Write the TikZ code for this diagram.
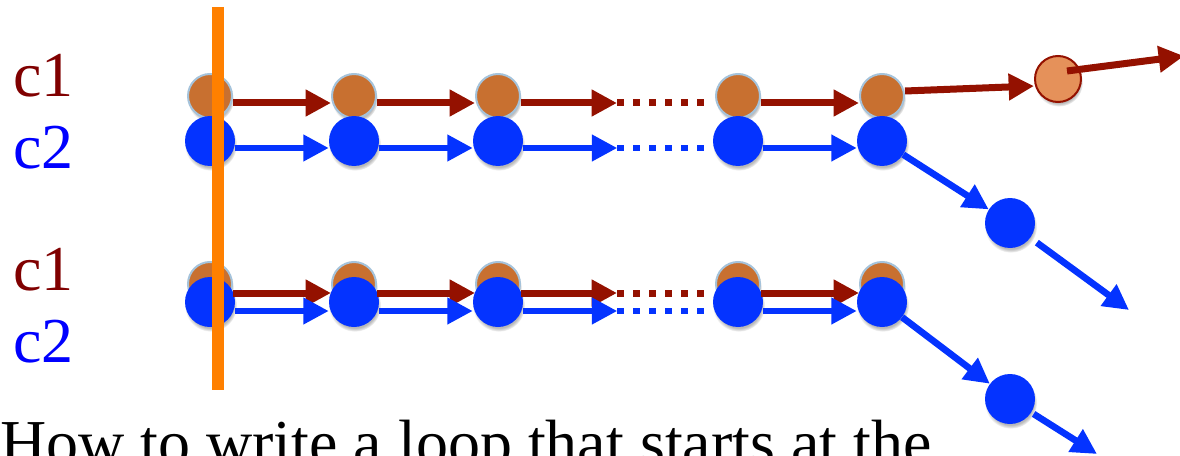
\documentclass[tikz,border=0pt]{standalone}
\usepackage{fontspec}
\setmainfont{Liberation Serif}
\usetikzlibrary{arrows.meta,calc,shadows}

\definecolor{chainred}{RGB}{148,17,0}
\definecolor{chainblue}{RGB}{4,51,255}
\definecolor{nodeorange}{RGB}{200,112,48}
\definecolor{nodeedge}{RGB}{165,195,219}
\definecolor{newfill}{RGB}{229,145,90}
\definecolor{labelred}{RGB}{128,0,0}
\definecolor{labelblue}{RGB}{0,0,255}
\definecolor{cutline}{RGB}{255,128,0}

\tikzset{
  soft shadow/.style={circular drop shadow={shadow xshift=0.6pt, shadow yshift=-2.5pt, shadow scale=1.05, opacity=0.55}},
  onode/.style={circle, inner sep=0pt, minimum size=33pt, fill=nodeorange, draw=nodeedge, line width=1.5pt, soft shadow},
  bnode/.style={circle, inner sep=0pt, minimum size=37.5pt, fill=chainblue, soft shadow},
  newnode/.style={circle, inner sep=0pt, minimum size=34.5pt, fill=newfill, draw=chainred, line width=1.5pt, soft shadow},
  redarrow/.style={draw=chainred, line width=5.25pt, -{Triangle[length=19pt,width=19pt]}},
  bluearrow/.style={draw=chainblue, line width=4.5pt, -{Triangle[length=19pt,width=19pt]}},
  reddots/.style={draw=chainred, line width=5.25pt, dash pattern=on 5.25pt off 6.75pt},
  bluedots/.style={draw=chainblue, line width=4.5pt, dash pattern=on 5.25pt off 6.75pt},
  bigtext/.style={inner sep=0pt, anchor=base west, font=\fontsize{48}{56}\selectfont},
}

\begin{document}
\begin{tikzpicture}[x=0.75pt,y=0.75pt,yscale=-1,xscale=1]
\useasboundingbox (0,0) rectangle (1180,456);
\clip (0,0) rectangle (1180,456);

% two rows of chains: c1 on top, c2 below it
\foreach \r/\ya/\yb/\d in {t/96/141/7,b/284/302/9}{
  \foreach \i/\x in {1/210,2/354,3/498,4/738,5/882}{
    \node[onode] (\r o\i) at (\x,\ya) {};
    \node[bnode] (\r b\i) at (\x,\yb) {};
  }
  \foreach \i/\j in {1/2,2/3,4/5}{
    \draw[redarrow] ($(\r o\i.east)+(0,\d)$) -- ($(\r o\j.west)+(0,\d)$);
    \draw[bluearrow] ($(\r b\i.east)+(0,\d)$) -- ($(\r b\j.west)+(0,\d)$);
  }
  % arrow then dots in the middle gap
  \coordinate (\r odot) at ($(\r o3.east)+(96,\d)$);
  \coordinate (\r bdot) at ($(\r b3.east)+(94,\d)$);
  \draw[redarrow] ($(\r o3.east)+(0,\d)$) -- (\r odot);
  \draw[reddots] (\r odot) -- ($(\r o4.west)+(-9,\d)$);
  \draw[bluearrow] ($(\r b3.east)+(0,\d)$) -- (\r bdot);
  \draw[bluedots] (\r bdot) -- ($(\r b4.west)+(-7,\d)$);
}

% branches off the ends
\node[newnode] (c1new) at (1058,79) {};
\node[bnode] (tn) at (1010,223) {};
\node[bnode] (bn) at (1010,399) {};
\coordinate (c1end) at (1184,56);
\coordinate (tend) at (1129,310);
\coordinate (bend) at (1097,454);

\draw[redarrow] ($(to5.east)+(0,-5)$) -- ($(c1new.west)+(0,7)$);
\draw[redarrow] ($(c1new.center)+(9,-8)$) -- (c1end);
\draw[bluearrow, line width=5pt] (tb5) -- (tn);
\draw[bluearrow, line width=5pt, shorten <=6pt] (tn) -- (tend);
\draw[bluearrow, line width=5pt] (bb5) -- (bn);
\draw[bluearrow, line width=5pt, shorten <=2pt] (bn) -- (bend);

% the cut line through the first nodes
\draw[cutline, line width=9pt] (218,7) -- (218,390);

% Text Node
\node[bigtext, labelred] (lt1) at (13,97) {c1};
\node[bigtext, labelblue] (lt2) at (13,168) {c2};
\node[bigtext, labelred] (lb1) at (13,290) {c1};
\node[bigtext, labelblue] (lb2) at (13,362) {c2};
\node[bigtext] (caption) at (0,464) {How to write a loop that starts at the};

\end{tikzpicture}
\end{document}
